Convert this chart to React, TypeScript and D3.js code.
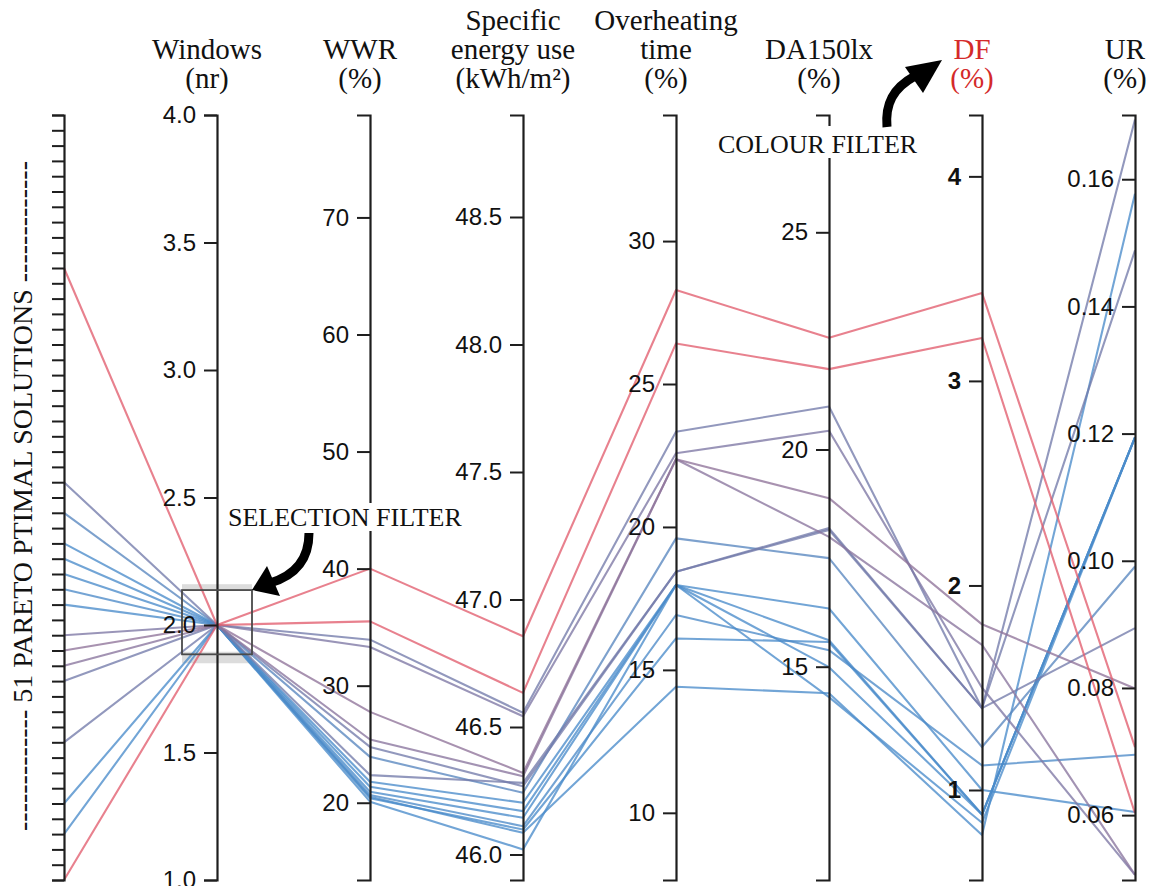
import React, { useEffect, useRef } from "react";
import * as d3 from "d3";

// ---------- data (one entry per visible Pareto solution) ----------
const solutionIndex = [10, 50, 24, 34, 35, 36, 37, 41, 26, 28, 29, 30, 31, 32, 45, 47];
const windowsNr = [2, 2, 2, 2, 2, 2, 2, 2, 2, 2, 2, 2, 2, 2, 2, 2];
const wwr = [40.0, 35.49, 33.93, 33.3, 27.76, 25.4, 22.36, 24.77, 23.92, 21.79, 21.36, 20.94, 20.66, 20.38, 20.5, 20.09];
const energyUse = [46.856, 46.634, 46.556, 46.542, 46.32, 46.307, 46.281, 46.268, 46.242, 46.203, 46.17, 46.144, 46.111, 46.098, 46.085, 46.02];
const overheating = [28.29, 26.42, 23.33, 22.58, 22.37, 22.37, 18.43, 18.43, 19.6, 17.97, 17.97, 17.97, 16.92, 16.1, 14.41, 17.97];
const da150 = [22.57, 21.85, 20.99, 20.43, 18.88, 17.99, 18.19, 18.15, 17.5, 16.34, 15.61, 14.3, 15.38, 15.57, 14.39, 14.99];
const dfValues = [3.43, 3.21, 1.4, 1.5, 1.81, 1.71, 1.4, 1.4, 1.21, 1.0, 0.88, 0.84, 1.12, 0.88, 0.78, 0.88];
const urValues = [0.0707, 0.0603, 0.1694, 0.0506, 0.0799, 0.0506, 0.1488, 0.0894, 0.0991, 0.0605, 0.1194, 0.1194, 0.0695, 0.1194, 0.1577, 0.1194];

// ---------- axes ----------
const dimKeys = ["index", "windows", "wwr", "energy", "overheat", "da", "df", "ur"];
const dimDomains: Record<string, [number, number]> = {
  index: [50, 0],
  windows: [1, 4],
  wwr: [13.4, 78.75],
  energy: [45.9, 48.9],
  overheat: [7.65, 34.41],
  da: [10.09, 27.7],
  df: [0.56, 4.3],
  ur: [0.0498, 0.1701],
};
const indexTicks = d3.range(0, 51);
const windowsTicks = [1.0, 1.5, 2.0, 2.5, 3.0, 3.5, 4.0];
const wwrTicks = [20, 30, 40, 50, 60, 70];
const energyTicks = [46.0, 46.5, 47.0, 47.5, 48.0, 48.5];
const overheatTicks = [10, 15, 20, 25, 30];
const daTicks = [15, 20, 25];
const dfTicks = [1, 2, 3, 4];
const urTicks = [0.06, 0.08, 0.1, 0.12, 0.14, 0.16];

const headerLines: Record<string, string[]> = {
  windows: ["", "Windows", "(nr)"],
  wwr: ["", "WWR", "(%)"],
  energy: ["Specific", "energy use", "(kWh/m\u00b2)"],
  overheat: ["Overheating", "time", "(%)"],
  da: ["", "DA150lx", "(%)"],
  df: ["", "DF", "(%)"],
  ur: ["", "UR", "(%)"],
};

export default function App() {
  const ref = useRef<SVGSVGElement | null>(null);

  useEffect(() => {
    const svg = d3.select(ref.current);
    svg.selectAll("*").remove();

    const top = 115;
    const bottom = 880;
    const x = d3.scalePoint<string>().domain(dimKeys).range([64, 1135]);
    const y: Record<string, d3.ScaleLinear<number, number>> = {};
    dimKeys.forEach((k) => {
      y[k] = d3.scaleLinear().domain(dimDomains[k]).range([bottom, top]);
    });

    const rows = solutionIndex.map((idx, i) => ({
      index: idx,
      windows: windowsNr[i],
      wwr: wwr[i],
      energy: energyUse[i],
      overheat: overheating[i],
      da: da150[i],
      df: dfValues[i],
      ur: urValues[i],
    }));

    const color = d3
      .scaleLinear<string>()
      .domain([1.1, 1.45, 3.2])
      .range(["#4a8cca", "#7a78a6", "#e25e6e"])
      .interpolate(d3.interpolateRgb)
      .clamp(true);

    // selection filter grey bands
    const bx0 = (x("windows") as number) - 35;
    const bw = 70;
    const yb = y.windows;
    svg.append("rect").attr("x", bx0).attr("y", yb(2.16)).attr("width", bw).attr("height", yb(2.137) - yb(2.16)).attr("fill", "#d6d6d6").attr("opacity", 0.85);
    svg.append("rect").attr("x", bx0).attr("y", yb(1.895)).attr("width", bw).attr("height", yb(1.85) - yb(1.895)).attr("fill", "#d6d6d6").attr("opacity", 0.85);

    // lines
    const line = d3.line<[number, number]>();
    const sorted = rows.slice().sort((a, b) => a.df - b.df);
    svg
      .append("g")
      .selectAll("path")
      .data(sorted)
      .join("path")
      .attr("d", (r: any) => line(dimKeys.map((k) => [x(k) as number, y[k](r[k])])))
      .attr("fill", "none")
      .attr("stroke", (r: any) => color(r.df))
      .attr("stroke-width", 2.1)
      .attr("stroke-opacity", 0.78)
      .attr("stroke-linejoin", "round");

    // axes
    const tickMap: Record<string, number[]> = {
      index: indexTicks,
      windows: windowsTicks,
      wwr: wwrTicks,
      energy: energyTicks,
      overheat: overheatTicks,
      da: daTicks,
      df: dfTicks,
      ur: urTicks,
    };
    const fmt: Record<string, (v: number) => string> = {
      index: () => "",
      windows: d3.format(".1f"),
      wwr: d3.format("d"),
      energy: d3.format(".1f"),
      overheat: d3.format("d"),
      da: d3.format("d"),
      df: d3.format("d"),
      ur: d3.format(".2f"),
    };
    dimKeys.forEach((k) => {
      const isIdx = k === "index";
      const ax = d3
        .axisLeft(y[k])
        .tickValues(tickMap[k])
        .tickFormat(fmt[k] as any)
        .tickSize(isIdx ? 12 : 13)
        .tickSizeOuter(isIdx ? 12 : 13)
        .tickPadding(8);
      const g = svg.append("g").attr("transform", `translate(${x(k)},0)`).call(ax as any);
      g.select(".domain").attr("stroke", "#1e1e1e").attr("stroke-width", 2.2);
      g.selectAll(".tick line").attr("stroke", "#1e1e1e").attr("stroke-width", 2);
      g.selectAll(".tick text")
        .attr("font-family", "'Liberation Sans', Arial, sans-serif")
        .attr("font-size", 24)
        .attr("fill", "#111")
        .attr("font-weight", k === "df" ? "bold" : "normal");
      g.attr("font-family", null).attr("font-size", null);
    });

    // selection filter box outline
    svg
      .append("rect")
      .attr("x", bx0)
      .attr("y", yb(2.137))
      .attr("width", bw)
      .attr("height", yb(1.885) - yb(2.137))
      .attr("fill", "none")
      .attr("stroke", "#4a4a4a")
      .attr("stroke-width", 1.8);

    // headers
    const serif = "'Liberation Serif', 'Times New Roman', serif";
    const baselines = [30, 59, 88];
    dimKeys.forEach((k) => {
      const lines = headerLines[k];
      if (!lines) return;
      lines.forEach((t, li) => {
        if (!t) return;
        svg
          .append("text")
          .attr("x", (x(k) as number) - 10)
          .attr("y", baselines[li])
          .attr("text-anchor", "middle")
          .attr("font-family", serif)
          .attr("font-size", 29)
          .attr("fill", k === "df" ? "#d42a2a" : "#111")
          .text(t);
      });
    });

    // left vertical label
    const dashes = "-------------";
    svg
      .append("text")
      .attr("transform", "translate(32,496) rotate(-90)")
      .attr("text-anchor", "middle")
      .attr("font-family", serif)
      .attr("font-size", 28)
      .attr("fill", "#111")
      .text(`${dashes} 51 PARETO PTIMAL SOLUTIONS ${dashes}`);

    // annotation: selection filter
    svg.append("rect").attr("x", 226).attr("y", 503).attr("width", 260).attr("height", 28).attr("fill", "#fff");
    svg
      .append("text")
      .attr("x", 228)
      .attr("y", 526)
      .attr("font-family", serif)
      .attr("font-size", 26)
      .attr("fill", "#111")
      .text("SELECTION FILTER");
    svg
      .append("path")
      .attr("d", "M309,533 C309,558 297,575 270,583")
      .attr("fill", "none")
      .attr("stroke", "#000")
      .attr("stroke-width", 9);
    svg.append("path").attr("d", "M252,590 L267,566 L280,596 Z").attr("fill", "#000");

    // annotation: colour filter
    svg.append("rect").attr("x", 716).attr("y", 126).attr("width", 228).attr("height", 32).attr("fill", "#fff");
    svg
      .append("text")
      .attr("x", 718)
      .attr("y", 153)
      .attr("font-family", serif)
      .attr("font-size", 26)
      .attr("fill", "#111")
      .text("COLOUR FILTER");
    svg
      .append("path")
      .attr("d", "M887,127 C885,104 893,88 915,76")
      .attr("fill", "none")
      .attr("stroke", "#000")
      .attr("stroke-width", 9);
    svg.append("path").attr("d", "M942,60 L905,67 L923,93 Z").attr("fill", "#000");
  }, []);

  return (
    <svg
      ref={ref}
      width={1156}
      height={886}
      style={{ position: "absolute", left: 0, top: 0, background: "#fff", display: "block" }}
    />
  );
}
